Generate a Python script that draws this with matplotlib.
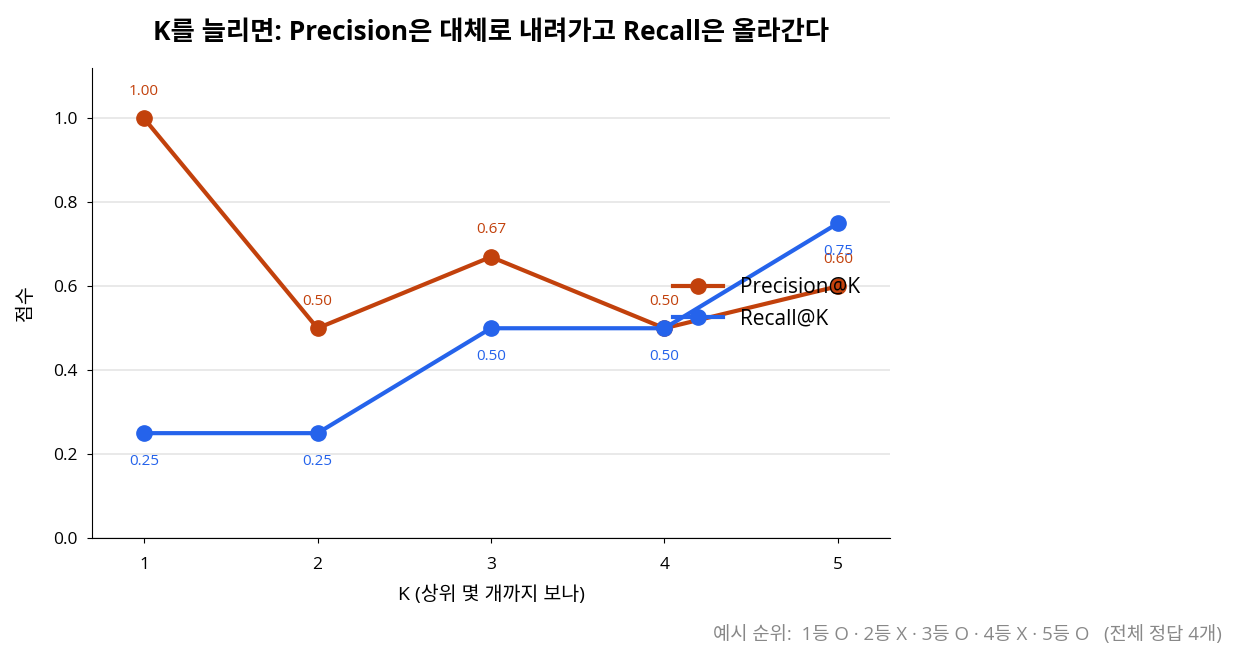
import matplotlib
matplotlib.use("Agg")
import matplotlib.pyplot as plt

plt.rcParams['font.family'] = ['Open Sans', 'Noto Sans CJK KR', 'DejaVu Sans']
plt.rcParams['axes.unicode_minus'] = False

# 데이터
k_values = [1, 2, 3, 4, 5]
precision = [1.00, 0.50, 0.67, 0.50, 0.60]
recall = [0.25, 0.25, 0.50, 0.50, 0.75]

c_prec = "#c2410c"
c_rec = "#2563eb"

fig = plt.figure(figsize=(12.37, 6.61), dpi=100)
ax = fig.add_axes([0.0744, 0.186, 0.645, 0.711])

ax.plot(k_values, precision, color=c_prec, lw=3, marker='o', ms=11, label='Precision@K', zorder=3)
ax.plot(k_values, recall, color=c_rec, lw=3, marker='o', ms=11, label='Recall@K', zorder=3)

for x, y in zip(k_values, precision):
    ax.annotate(f"{y:.2f}", (x, y), xytext=(0, 14), textcoords='offset points',
                ha='center', va='bottom', color=c_prec, fontsize=11)
for x, y in zip(k_values, recall):
    ax.annotate(f"{y:.2f}", (x, y), xytext=(0, -15), textcoords='offset points',
                ha='center', va='top', color=c_rec, fontsize=11)

ax.set_xlim(0.7, 5.3)
ax.set_ylim(0, 1.12)
ax.set_xticks(k_values)
ax.set_yticks([0.0, 0.2, 0.4, 0.6, 0.8, 1.0])
ax.set_yticklabels([f"{v:.1f}" for v in [0.0, 0.2, 0.4, 0.6, 0.8, 1.0]])
ax.tick_params(labelsize=12.5)
ax.tick_params(axis='x', pad=10)
ax.tick_params(axis='y', pad=7)
ax.grid(axis='y', color='#e5e5e5', lw=1.2)
ax.set_axisbelow(True)
ax.spines['top'].set_visible(False)
ax.spines['right'].set_visible(False)

ax.set_xlabel("K (상위 몇 개까지 보나)", fontsize=14, labelpad=9)
ax.set_ylabel("점수", fontsize=14, labelpad=13)
ax.set_title("K를 늘리면: Precision은 대체로 내려가고 Recall은 올라간다",
             fontsize=19, fontweight='bold', pad=20)

ax.legend(loc='center left', bbox_to_anchor=(0.705, 0.5), frameon=False, fontsize=15,
          handlelength=2.4, handletextpad=0.8, labelspacing=0.5)

fig.text(0.988, 0.025, "예시 순위:  1등 O · 2등 X · 3등 O · 4등 X · 5등 O   (전체 정답 4개)",
         ha='right', va='bottom', color='#888888', fontsize=13.5)

fig.savefig("out.png", dpi=100)
